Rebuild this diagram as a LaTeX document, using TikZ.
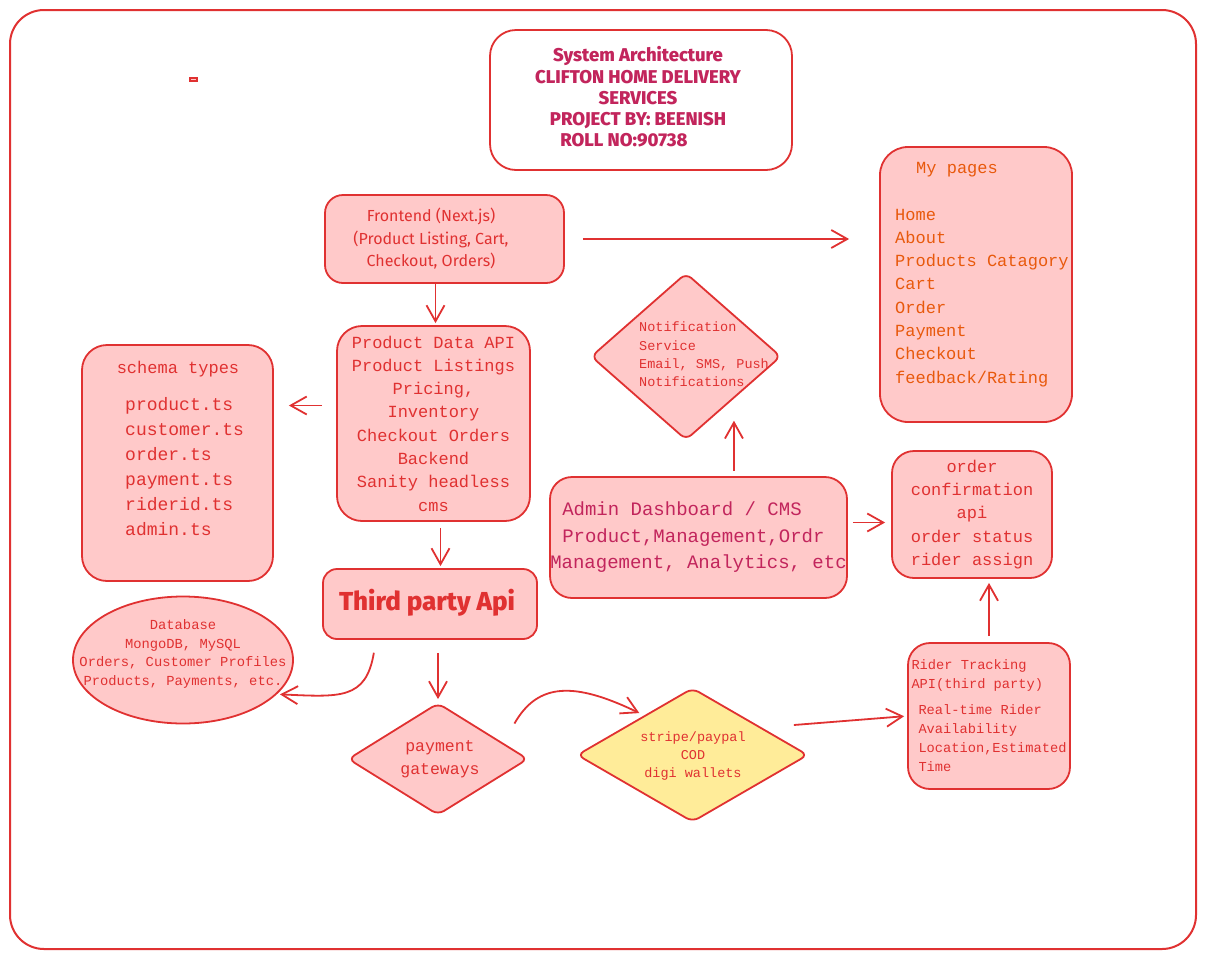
\documentclass[tikz,border=0pt]{standalone}
\usepackage{fontspec}
\setmainfont{Fira Sans}
\setmonofont{Liberation Mono}
\IfFontExistsTF{Fira Sans ExtraBold}{\newfontfamily\heavyf{Fira Sans ExtraBold}}{\newcommand{\heavyf}{\bfseries}}
\usepackage{tikz}
\usetikzlibrary{shapes.geometric,arrows.meta}

\definecolor{rd}{HTML}{E03131}
\definecolor{pk}{HTML}{FFC9C9}
\definecolor{mag}{HTML}{C2255C}
\definecolor{org}{HTML}{E8590C}
\definecolor{ylw}{HTML}{FFEC99}

\tikzset{
	box/.style={draw=rd, fill=pk, line width=1.8pt, rounded corners=22pt, text=rd, align=center, inner sep=0pt},
	dia/.style={diamond, draw=rd, fill=pk, line width=1.8pt, rounded corners=7pt, inner sep=0pt},
	txt/.style={text=rd, inner sep=0pt},
	arr/.style={draw=rd, line width=1.8pt, -{Straight Barb[length=16pt,width=18pt]}},
}

\begin{document}
\begin{tikzpicture}[x=1pt,y=-1pt]
\useasboundingbox (0,0) rectangle (1205,959);
\draw[rd, line width=2pt, rounded corners=34pt] (10,10) rectangle (1196,949);
\draw[rd, fill=pk, line width=1.2pt] (190,78) rectangle (197,81);

\draw (641,100) node[box, fill=white, minimum width=302pt, minimum height=140pt, rounded corners=26pt](title) {};
	\draw (638,97) node[txt, align=center, text=mag, font=\heavyf\fontsize{18.5}{21.3}\selectfont](titleTxt) {System Architecture\\CLIFTON HOME DELIVERY\\SERVICES\\PROJECT BY: BEENISH\\ROLL NO:90738\hspace*{28pt}};

\draw (444.5,239) node[box, minimum width=239pt, minimum height=88pt, rounded corners=18pt](front) {};
	\draw (431,239) node[txt, align=center, font=\fontsize{16}{22.5}\selectfont](frontTxt) {Frontend (Next.js)\\(Product Listing, Cart,\\Checkout, Orders)};

\draw (976,284.5) node[box, minimum width=192pt, minimum height=275pt, rounded corners=28pt](pages) {};
	\draw (895,162) node[txt, anchor=north west, align=left, text=org, font=\ttfamily\fontsize{17}{23.3}\selectfont](pagesTxt) {\hspace*{21pt}My pages\\[23.3pt]Home\\About\\Products Catagory\\Cart\\Order\\Payment\\Checkout\\feedback/Rating};

\draw (433.5,423.5) node[box, minimum width=193pt, minimum height=195pt, rounded corners=25pt, font=\ttfamily\fontsize{17}{23.3}\selectfont](product) {Product Data API\\Product Listings\\Pricing,\\Inventory\\Checkout Orders\\Backend\\Sanity headless\\cms};

\draw (177.5,463) node[box, minimum width=191pt, minimum height=236pt, rounded corners=25pt](schema) {};
	\draw (178,369) node[txt, font=\ttfamily\fontsize{17}{25}\selectfont](schemaTitle) {schema types};
	\draw (125,397) node[txt, anchor=north west, align=left, font=\ttfamily\fontsize{18}{25}\selectfont](schemaTxt) {product.ts\\customer.ts\\order.ts\\payment.ts\\riderid.ts\\admin.ts};

\draw (430,604) node[box, minimum width=214pt, minimum height=70pt, rounded corners=14pt](third) {};
	\draw (427,603) node[txt, font=\heavyf\fontsize{26}{28}\selectfont](thirdTxt) {Third party Api};

\draw (183,660) node[ellipse, draw=rd, fill=pk, line width=1.8pt, minimum width=220pt, minimum height=127pt, inner sep=0pt](db) {};
	\draw (183,654) node[txt, align=center, font=\ttfamily\fontsize{13.8}{18.7}\selectfont](dbTxt) {Database\\MongoDB, MySQL\\Orders, Customer Profiles\\Products, Payments, etc.};

\draw (438,759) node[dia, fill=pk, minimum width=180pt, minimum height=112pt](pay) {};
	\draw (440,759) node[txt, align=center, font=\ttfamily\fontsize{16.5}{23}\selectfont](payTxt) {payment\\gateways};

\draw (692.5,755) node[dia, fill=ylw, minimum width=231pt, minimum height=134pt](stripe) {};
	\draw (693,756) node[txt, align=center, font=\ttfamily\fontsize{13.5}{18}\selectfont](stripeTxt) {stripe/paypal\\COD\\digi wallets};

\draw (989,716) node[box, minimum width=162pt, minimum height=146pt, align=left, font=\ttfamily\fontsize{13.7}{19}\selectfont](rider) {Rider Tracking\\API(third party)\\[7pt]\hspace*{7pt}Real-time Rider\\\hspace*{7pt}Availability\\\hspace*{7pt}Location,Estimated\\\hspace*{7pt}Time};

\draw (972,514.5) node[box, minimum width=160pt, minimum height=127pt, font=\ttfamily\fontsize{17}{23.3}\selectfont](order) {order\\confirmation\\api\\order status\\rider assign};

\draw (698.5,537.5) node[box, minimum width=297pt, minimum height=121pt, align=left, text=mag, font=\ttfamily\fontsize{19}{26.5}\selectfont](admin) {\hspace*{12pt}Admin Dashboard / CMS\\\hspace*{12pt}Product,Management,Ordr\\Management, Analytics, etc};

\draw (686,356.5) node[dia, fill=pk, minimum width=190pt, minimum height=167pt](notif) {};
	\draw (639,322) node[txt, anchor=north west, align=left, font=\ttfamily\fontsize{13.5}{18.3}\selectfont](notifTxt) {Notification\\Service\\Email, SMS, Push\\Notifications};

\draw[arr, shorten <=18pt, shorten >=30pt] (front.east) -- (front.east -| pages.west);
\draw[arr, shorten >=2pt] ([xshift=2pt]product.north |- front.south) -- ([xshift=2pt]product.north);
\draw[arr, shorten <=14pt, shorten >=15pt] ([yshift=18pt]product.west) -- ([yshift=18pt]product.west -| schema.east);
\draw[arr, shorten <=6pt, shorten >=2pt] ([xshift=7pt]product.south) -- ([xshift=7pt]product.south |- third.north);
\draw[arr, shorten <=13pt, shorten >=3pt] ([xshift=-54pt]third.south) .. controls (366,700) and (340,697) .. (db.-20);
\draw[arr, shorten <=13pt, shorten >=3pt] (pay.north |- third.south) -- (pay.north);
\draw[arr] ([xshift=31pt,yshift=7pt]pay.north east) .. controls (538,682) and (575,682) .. ([xshift=5pt,yshift=8pt]stripe.north west);
\draw[arr, shorten >=3pt] ([xshift=-15pt,yshift=30pt]stripe.east) -- (rider.west);
\draw[arr, shorten <=6pt, shorten >=4pt] (rider.north) -- (rider.north |- order.south);
\draw[arr, shorten <=5pt, shorten >=6pt] ([yshift=15pt]admin.east) -- ([yshift=15pt]admin.east -| order.west);
\draw[arr, shorten <=5pt, shorten >=22pt] (admin.north -| notif.south east) -- (notif.south east);
\end{tikzpicture}
\end{document}
